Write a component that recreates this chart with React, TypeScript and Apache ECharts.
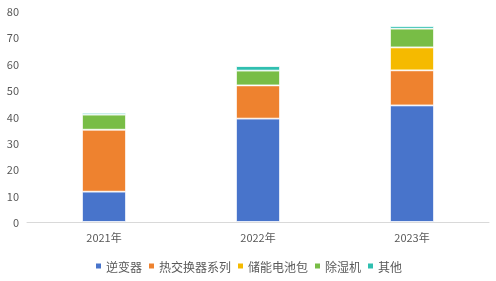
import React, { useEffect, useRef } from "react";
import * as echarts from "echarts";

const categories = ["2021年", "2022年", "2023年"];
const seriesNames = ["逆变器", "热交换器系列", "储能电池包", "除湿机", "其他"];
const inverter = [11.5, 39.2, 44.2];
const heatExchanger = [23.5, 12.6, 13.3];
const batteryPack = [0, 0, 8.7];
const dehumidifier = [5.7, 5.6, 7.1];
const others = [0.7, 1.7, 1.0];
const colors = ["#4874CB", "#EE822F", "#F5BA00", "#78BD46", "#2FBFB0"];
const yTicks = { min: 0, max: 80, interval: 10 };

export default function App() {
  const ref = useRef<HTMLDivElement>(null);
  useEffect(() => {
    if (!ref.current) return;
    const chart = echarts.init(ref.current, undefined, { renderer: "svg" });
    const data = [inverter, heatExchanger, batteryPack, dehumidifier, others];
    chart.setOption({
      animation: false,
      color: colors,
      textStyle: { fontFamily: "'Noto Sans CJK SC', 'Noto Sans', sans-serif" },
      grid: { left: 27, right: 7, top: 11, bottom: 59, containLabel: false },
      legend: {
        bottom: 4,
        left: "center",
        itemWidth: 7,
        itemHeight: 7,
        itemGap: 5,
        icon: "rect",
        textStyle: { fontSize: 12, color: "#595959", padding: [0, 0, 0, -1] },
        data: seriesNames,
      },
      xAxis: {
        type: "category",
        data: categories,
        axisLine: { lineStyle: { color: "#D9D9D9" } },
        axisTick: { show: false },
        axisLabel: { color: "#595959", fontSize: 11, margin: 9 },
      },
      yAxis: {
        type: "value",
        min: yTicks.min,
        max: yTicks.max,
        interval: yTicks.interval,
        splitLine: { show: false },
        axisLine: { show: false },
        axisTick: { show: false },
        axisLabel: { color: "#595959", fontSize: 11, margin: 8 },
      },
      series: seriesNames.map((name, i) => ({
        name,
        type: "bar",
        stack: "total",
        barWidth: 44,
        data: data[i],
        itemStyle: { borderColor: "#fff", borderWidth: 0.8 },
      })),
    });
    return () => chart.dispose();
  }, []);
  return (
    <div
      ref={ref}
      style={{ position: "fixed", left: 0, top: 0, width: 496, height: 281 }}
    />
  );
}
